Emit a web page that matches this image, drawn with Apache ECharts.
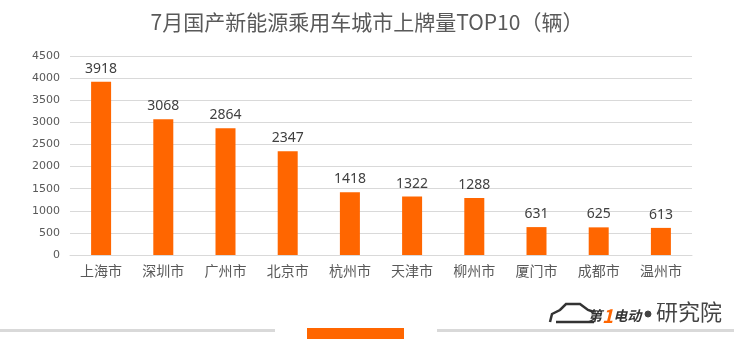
<!DOCTYPE html>
<html><head><meta charset="utf-8">
<script src="https://cdn.jsdelivr.net/npm/echarts@6/dist/echarts.min.js"></script>
<style>html,body{margin:0;padding:0;background:#fff}#c{width:734px;height:347px}</style>
</head><body><div id="c"></div>
<script>
const titleText = '7月国产新能源乘用车城市上牌量TOP10（辆）';
const categories = ['上海市','深圳市','广州市','北京市','杭州市','天津市','柳州市','厦门市','成都市','温州市'];
const values = [3918,3068,2864,2347,1418,1322,1288,631,625,613];
const yTicks = [0,500,1000,1500,2000,2500,3000,3500,4000,4500];

const chart = echarts.init(document.getElementById('c'));
const font = '"Microsoft YaHei","Noto Sans CJK SC",sans-serif';
chart.setOption({
  animation:false,
  title:{text:titleText,left:'center',top:7,textStyle:{fontFamily:font,fontSize:21,fontWeight:'normal',color:'#595959'}},
  grid:{left:70,right:42,top:56,bottom:92,containLabel:false},
  xAxis:{type:'category',data:categories,
    axisLine:{lineStyle:{color:'#d9d9d9',width:1}},axisTick:{show:false},
    axisLabel:{fontFamily:font,fontSize:14,color:'#595959',margin:9}},
  yAxis:{type:'value',min:yTicks[0],max:yTicks[yTicks.length-1],interval:500,
    axisLine:{show:false},axisTick:{show:false},
    splitLine:{lineStyle:{color:'#d9d9d9',width:1}},
    axisLabel:{fontFamily:'Tahoma,"DejaVu Sans",sans-serif',fontSize:11,color:'#595959',margin:10,
      formatter:function(v){return String(v);}}},
  series:[{type:'bar',data:values,barWidth:20,itemStyle:{color:'#FF6600'},
    label:{show:true,position:'top',distance:6,fontFamily:'"Noto Sans","DejaVu Sans",sans-serif',fontSize:14,color:'#404040'}}],
  graphic:{elements:[
    {type:'rect',shape:{x:0,y:329,width:275,height:3},style:{fill:'#d9d9d9'}},
    {type:'rect',shape:{x:307,y:328,width:97,height:11},style:{fill:'#FF6600'}},
    {type:'rect',shape:{x:437,y:329,width:297,height:3},style:{fill:'#d9d9d9'}},
    {type:'polyline',shape:{points:[[550,322],[552,314],[560,310],[566,304],[580,304],[588,310],[594,312]]},style:{stroke:'#333',lineWidth:2.5,fill:null}},
    {type:'polyline',shape:{points:[[556,322],[594,322]]},style:{stroke:'#333',lineWidth:2.5}},
    {type:'text',left:588,top:306,style:{
      text:'{a|第}{b|1}{a|电动}',
      rich:{a:{fontFamily:font,fontSize:14,fontWeight:'bold',fontStyle:'italic',fill:'#333',color:'#333'},
            b:{fontFamily:font,fontSize:19,fontWeight:'bold',fontStyle:'italic',fill:'#FF6600',color:'#FF6600'}}}},
    {type:'circle',x:648,y:314,shape:{cx:0,cy:0,r:3},style:{fill:'#444',stroke:'#444'}},
    {type:'text',left:656,top:301,style:{text:'研究院',fontFamily:font,fontSize:22,fill:'#444'}}
  ]}
});
</script></body></html>
